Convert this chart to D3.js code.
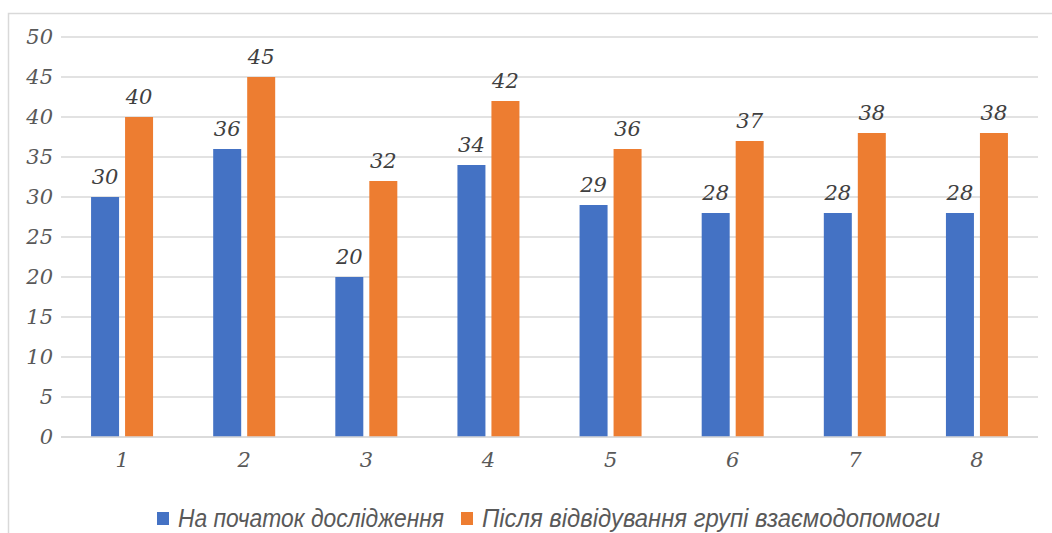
<!DOCTYPE html>
<html>
<head>
<meta charset="utf-8">
<script src="https://cdn.jsdelivr.net/npm/d3@7"></script>
<style>
  html, body { margin: 0; padding: 0; background: #fff; }
  svg { display: block; }
</style>
</head>
<body>
<svg id="chart" width="1052" height="533"></svg>
<script>
// Categories and the two series
const categories = ["1", "2", "3", "4", "5", "6", "7", "8"];
const seriesNames = ["На початок дослідження", "Після відвідування групі взаємодопомоги"];
const beforeValues = [30, 36, 20, 34, 29, 28, 28, 28];
const afterValues = [40, 45, 32, 42, 36, 37, 38, 38];
const yTicks = [0, 5, 10, 15, 20, 25, 30, 35, 40, 45, 50];

const colors = ["#4472C4", "#ED7D31"];
const textColor = "#595959";
const gridColor = "#d9d9d9";
const serif = "'DejaVu Serif', 'Liberation Serif', serif";

const svg = d3.select("#chart");

// Outer chart frame
svg.append("rect")
  .attr("x", 8.5).attr("y", 13.5)
  .attr("width", 1100).attr("height", 600)
  .attr("fill", "none").attr("stroke", gridColor).attr("stroke-width", 1.5);

const plot = { left: 61, right: 1038, top: 37, bottom: 437 };

const x = d3.scaleBand().domain(categories).range([plot.left, plot.right]);
const y = d3.scaleLinear().domain([0, 50]).range([plot.bottom, plot.top]);

const barW = 28, barGap = 6;
const groupW = barW * 2 + barGap;

// Horizontal gridlines
svg.append("g")
  .selectAll("line").data(yTicks).join("line")
  .attr("x1", plot.left).attr("x2", plot.right)
  .attr("y1", d => y(d)).attr("y2", d => y(d))
  .attr("stroke", gridColor).attr("stroke-width", 1.5);

const styleTicks = g => g.selectAll("text")
  .attr("fill", textColor)
  .attr("font-family", serif)
  .attr("font-style", "italic")
  .attr("font-size", 21);

// Y axis labels
const yAxis = d3.axisLeft(y).tickValues(yTicks).tickSize(0).tickPadding(8);
svg.append("g")
  .attr("transform", `translate(${plot.left},0)`)
  .call(yAxis)
  .call(g => g.select(".domain").remove())
  .call(styleTicks);

// X axis labels
const xAxis = d3.axisBottom(x).tickSize(0).tickPadding(15);
svg.append("g")
  .attr("transform", `translate(0,${plot.bottom})`)
  .call(xAxis)
  .call(g => g.select(".domain").remove())
  .call(styleTicks);

// Bars and value labels
const series = [beforeValues, afterValues];
series.forEach((vals, si) => {
  const data = categories.map((c, i) => ({ c, v: vals[i] }));
  const xOff = d => x(d.c) + x.bandwidth() / 2 - groupW / 2 + si * (barW + barGap);
  const g = svg.append("g");
  g.selectAll("rect").data(data).join("rect")
    .attr("x", xOff)
    .attr("y", d => y(d.v))
    .attr("width", barW)
    .attr("height", d => y(0) - y(d.v))
    .attr("fill", colors[si]);
  g.selectAll("text").data(data).join("text")
    .attr("x", d => xOff(d) + barW / 2)
    .attr("y", d => y(d.v) - 13)
    .attr("text-anchor", "middle")
    .attr("fill", "#404040")
    .attr("font-family", serif)
    .attr("font-style", "italic")
    .attr("font-size", 21)
    .text(d => d.v);
});

// Axis baseline
svg.append("line")
  .attr("x1", plot.left).attr("x2", plot.right)
  .attr("y1", plot.bottom).attr("y2", plot.bottom)
  .attr("stroke", gridColor).attr("stroke-width", 1.5);

// Legend
const legendItems = [
  { name: seriesNames[0], color: colors[0], sx: 157, tx: 178, tw: 266 },
  { name: seriesNames[1], color: colors[1], sx: 461, tx: 482, tw: 458 }
];
const legend = svg.append("g");
legendItems.forEach(it => {
  legend.append("rect")
    .attr("x", it.sx).attr("y", 512)
    .attr("width", 12).attr("height", 13)
    .attr("fill", it.color);
  legend.append("text")
    .attr("x", it.tx).attr("y", 527)
    .attr("fill", textColor)
    .attr("textLength", it.tw)
    .attr("lengthAdjust", "spacingAndGlyphs")
    .attr("font-family", "'Liberation Sans Narrow', 'Liberation Sans', sans-serif")
    .attr("font-style", "italic")
    .attr("font-size", 25)
    .text(it.name);
});
</script>
</body>
</html>
